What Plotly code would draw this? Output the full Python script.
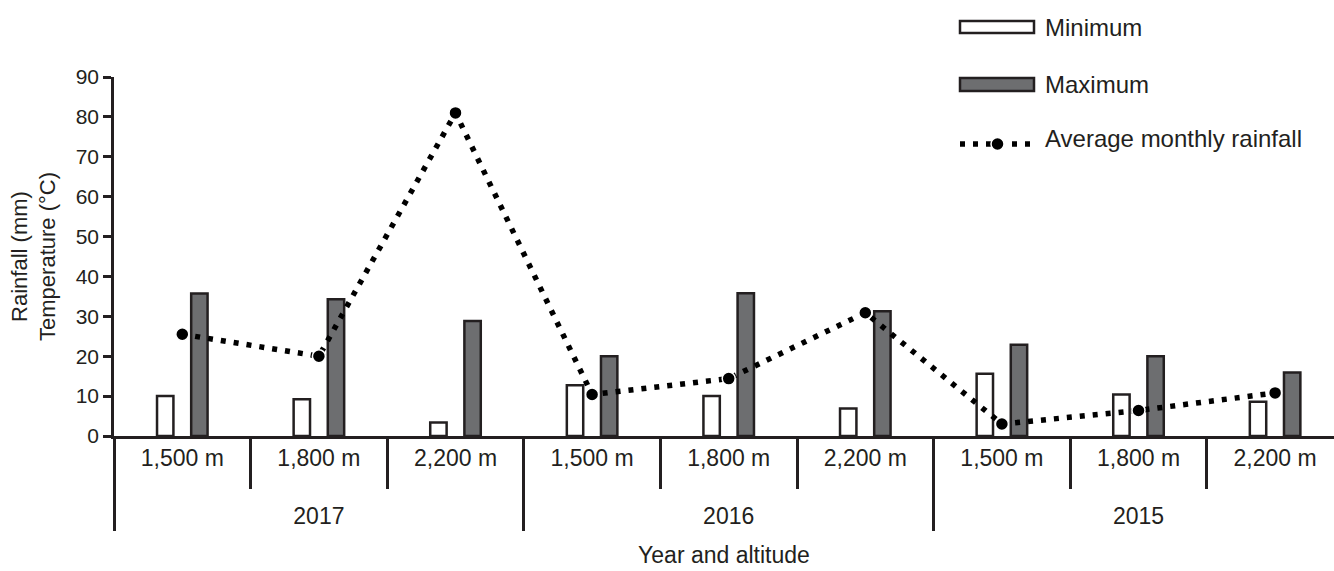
import plotly.graph_objects as go

# Categories: survey year and altitude band
years = ["2017"] * 3 + ["2016"] * 3 + ["2015"] * 3
altitudes = ["1,500 m", "1,800 m", "2,200 m"] * 3

# Temperature (°C) and rainfall (mm)
temp_min = [10.0, 9.2, 3.4, 12.7, 10.0, 6.9, 15.6, 10.4, 8.6]
temp_max = [35.7, 34.3, 28.8, 20.0, 35.8, 31.3, 22.9, 20.0, 15.9]
rain_avg = [25.5, 20.0, 81.0, 10.4, 14.4, 30.9, 3.0, 6.4, 10.8]

y_ticks = list(range(0, 100, 10))

INK = "#231f20"
GREY = "#6d6e70"
FONT = "Liberation Sans, Arial, Helvetica, sans-serif"

W, H = 1334, 571
ML, MR, MT, MB = 114, 0, 77, 135
PW, PH = W - ML - MR, H - MT - MB


def px_x(x):
    return (x - ML) / PW


def px_y(y):
    return (H - MB - y) / PH


# outer level gets an empty first line so the year row sits lower
x_cat = [["<br>" + y for y in years], altitudes]

fig = go.Figure()
fig.add_trace(go.Bar(
    x=x_cat, y=temp_min, name="Minimum",
    width=0.12, offset=-0.185,
    marker=dict(color="white", line=dict(color=INK, width=2.5)),
))
fig.add_trace(go.Bar(
    x=x_cat, y=temp_max, name="Maximum",
    width=0.12, offset=0.065,
    marker=dict(color=GREY, line=dict(color=INK, width=2.5)),
))
fig.add_trace(go.Scatter(
    x=x_cat, y=rain_avg, name="Average monthly rainfall",
    mode="lines+markers",
    line=dict(color="black", width=5.5, dash="5px,8px"),
    marker=dict(color="black", size=13, line=dict(color="white", width=1.5)),
))

# Legend drawn as swatches + labels in the top-right corner
shapes = [
    dict(type="rect", xref="paper", yref="paper",
         x0=px_x(960), x1=px_x(1034), y0=px_y(33), y1=px_y(21),
         fillcolor="white", line=dict(color=INK, width=2.5)),
    dict(type="rect", xref="paper", yref="paper",
         x0=px_x(960), x1=px_x(1034), y0=px_y(91), y1=px_y(78),
         fillcolor=GREY, line=dict(color=INK, width=2.5)),
    dict(type="line", xref="paper", yref="paper",
         x0=px_x(960), x1=px_x(1032), y0=px_y(144), y1=px_y(144),
         line=dict(color="black", width=5.5, dash="5px,8px")),
    dict(type="circle", xref="paper", yref="paper",
         x0=px_x(991), x1=px_x(1004), y0=px_y(150.5), y1=px_y(137.5),
         fillcolor="black", line=dict(color="white", width=1.5)),
]
legend_labels = [("Minimum", 27), ("Maximum", 84), ("Average monthly rainfall", 139)]
annotations = [
    dict(text=t, xref="paper", yref="paper", x=px_x(1043), y=px_y(yc),
         xanchor="left", yanchor="middle", showarrow=False,
         font=dict(family=FONT, size=24, color=INK))
    for t, yc in legend_labels
]

fig.update_layout(
    width=W, height=H,
    margin=dict(l=ML, r=MR, t=MT, b=MB, pad=0),
    paper_bgcolor="white", plot_bgcolor="white",
    showlegend=False,
    barmode="overlay",
    font=dict(family=FONT, color=INK),
    shapes=shapes,
    annotations=annotations,
)
fig.update_xaxes(
    type="multicategory",
    range=[-0.5, -0.5 + PW / 136.6],
    showline=True, linecolor=INK, linewidth=2.5,
    ticks="outside", ticklen=50, tickwidth=2.5, tickcolor=INK,
    tickfont=dict(family=FONT, size=23, color=INK),
    showdividers=True, dividercolor=INK, dividerwidth=2.5,
    showgrid=False, zeroline=False,
    title=dict(text="Year and altitude", font=dict(family=FONT, size=23, color=INK), standoff=19),
)
fig.update_yaxes(
    range=[0, 90], tickvals=y_ticks,
    showline=True, linecolor=INK, linewidth=2.5,
    ticks="outside", ticklen=8, tickwidth=2.5, tickcolor=INK,
    tickfont=dict(family=FONT, size=21, color=INK),
    showgrid=False, zeroline=False,
    title=dict(text="Rainfall (mm)<br>Temperature (°C)",
               font=dict(family=FONT, size=22, color=INK), standoff=14),
)

fig.write_html("out.html")
